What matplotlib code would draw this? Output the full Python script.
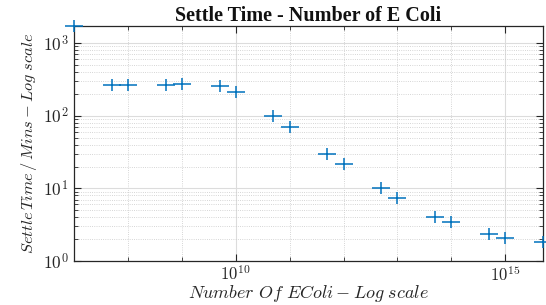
import matplotlib
matplotlib.use("Agg")
import matplotlib.pyplot as plt
from matplotlib.ticker import LogLocator, FuncFormatter, NullFormatter
from matplotlib.path import Path
import numpy as np

# Data
num_ecoli = [1e7, 5e7, 1e8, 5e8, 1e9, 5e9, 1e10, 5e10, 1e11, 5e11,
             1e12, 5e12, 1e13, 5e13, 1e14, 5e14, 1e15, 5e15]
settle_time = [1720, 265, 265, 265, 273, 259, 214, 100, 69, 30,
               21.5, 10, 7.4, 4.06, 3.4, 2.32, 2.08, 1.85]

title = "Settle Time - Number of E Coli"
xlabel = r"$Number\ Of\ EColi - Log\ scale$"
ylabel = r"$Settle\,Time\,/\,Mins - Log\ scale$"

plt.rcParams['mathtext.fontset'] = 'cm'

fig = plt.figure(figsize=(5.46, 3.05), dpi=100)
ax = fig.add_axes([74/546, 1-261/305, (543-74)/546, (261-26)/305])

blue = '#0072BD'
# wide "+" marker (reference is horizontally stretched)
plus_wide = Path([(-1, 0), (1, 0), (0, -0.66), (0, 0.66)],
                 [Path.MOVETO, Path.LINETO, Path.MOVETO, Path.LINETO])
ax.plot(num_ecoli, settle_time, linestyle='none', marker=plus_wide, markersize=12.5,
        markeredgewidth=1.1, markerfacecolor='none', color=blue, clip_on=False, zorder=5)

ax.set_xscale('log')
ax.set_yscale('log')
ax.set_xlim(min(num_ecoli), max(num_ecoli))
ax.set_ylim(1, max(settle_time))

ax.set_xticks([1e10, 1e15])
ax.xaxis.set_minor_locator(LogLocator(base=10, subs=(1.0,), numticks=100))
ax.yaxis.set_major_locator(LogLocator(base=10, subs=(1.0,), numticks=100))
ax.yaxis.set_minor_locator(LogLocator(base=10, subs=np.arange(2, 10), numticks=100))

fmt = FuncFormatter(lambda v, p: r"$10^{%d}$" % int(round(np.log10(v))))
ax.xaxis.set_major_formatter(fmt)
ax.yaxis.set_major_formatter(fmt)
ax.xaxis.set_minor_formatter(NullFormatter())
ax.yaxis.set_minor_formatter(NullFormatter())

ax.tick_params(which='both', direction='in', top=True, right=True,
               color='#262626', labelsize=12.5, labelcolor='#262626')
ax.tick_params(which='major', length=5, width=0.8)
ax.tick_params(which='minor', length=3, width=0.6)
ax.tick_params(axis='x', pad=3, labelsize=12)
ax.tick_params(axis='y', pad=4)

ax.grid(True, which='major', color='#dcdcdc', linestyle='-', linewidth=0.8)
ax.grid(True, which='minor', color='#c8c8c8', linestyle=':', linewidth=0.6)
ax.set_axisbelow(True)

for s in ax.spines.values():
    s.set_color('#262626')
    s.set_linewidth(0.9)

ax.set_title(title, fontfamily='Liberation Serif', fontweight='bold',
             fontsize=14.5, color='#111111', pad=3)
ax.set_xlabel(xlabel, fontsize=13, color='#262626', labelpad=-1)
ax.set_ylabel(ylabel, fontsize=11.8, color='#262626', labelpad=3)

fig.savefig('out.png', dpi=100)
